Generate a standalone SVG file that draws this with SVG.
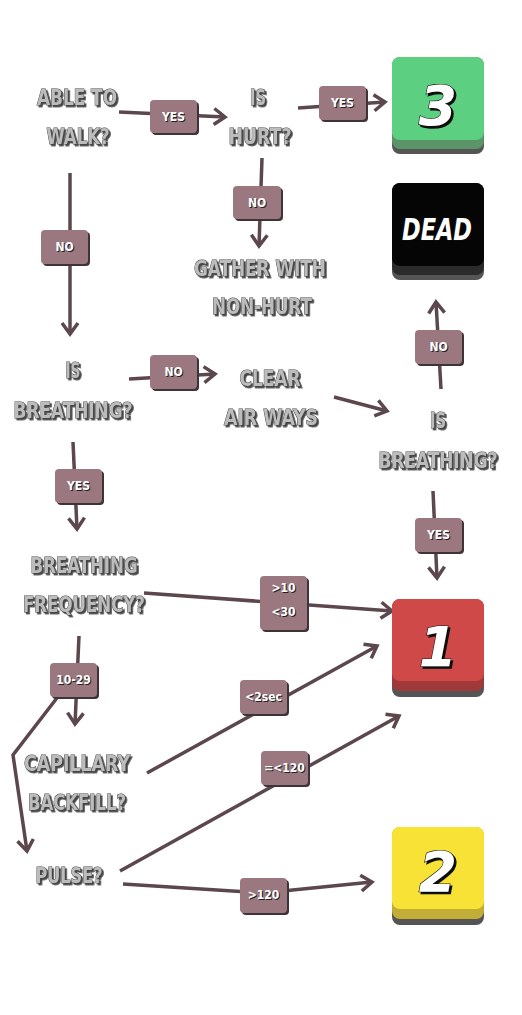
<svg xmlns="http://www.w3.org/2000/svg" width="522" height="1015" viewBox="0 0 522 1015">
<defs>
<style>
.h{font-family:"DejaVu Sans Condensed","DejaVu Sans",sans-serif;font-weight:bold;font-size:21px;fill:#bcbcbc;stroke:#454545;stroke-width:1;paint-order:stroke;text-anchor:middle}
.c{fill:none;stroke:#5b474c;stroke-width:3.5;stroke-linecap:butt;stroke-linejoin:miter}
.lb{fill:#9b7880}
.ls{fill:#3e3336}
.lt{font-family:"DejaVu Sans Condensed","DejaVu Sans",sans-serif;font-weight:bold;font-size:12px;fill:#ffffff;text-anchor:middle}
.ltsh{font-family:"DejaVu Sans Condensed","DejaVu Sans",sans-serif;font-weight:bold;font-size:12px;fill:#222;text-anchor:middle}
.num{font-family:"DejaVu Sans","Liberation Sans",sans-serif;font-weight:bold;font-style:italic;fill:#ffffff;stroke:#111;stroke-width:1.2;paint-order:stroke;text-anchor:middle}
</style>
<filter id="sh" x="-10%" y="-10%" width="130%" height="140%">
<feDropShadow dx="1.8" dy="1.8" stdDeviation="0.3" flood-color="#333" flood-opacity="0.9"/>
</filter>
<filter id="nsh" x="-20%" y="-20%" width="150%" height="150%">
<feDropShadow dx="2" dy="2" stdDeviation="0" flood-color="#111" flood-opacity="1"/>
</filter>
<marker id="ah" markerUnits="userSpaceOnUse" viewBox="-16 -12 20 24" refX="0" refY="0" markerWidth="20" markerHeight="24" orient="auto" overflow="visible">
<path d="M-11,-8 L0,0 L-11,8" fill="none" stroke="#5b474c" stroke-width="3.5" stroke-linejoin="miter"/>
</marker>
</defs>
<rect width="522" height="1015" fill="#ffffff"/>

<g id="connectors">
<line class="c" x1="119" y1="112" x2="225" y2="117" marker-end="url(#ah)"/>
<line class="c" x1="298" y1="108" x2="385" y2="102" marker-end="url(#ah)"/>
<line class="c" x1="262" y1="158" x2="259" y2="246" marker-end="url(#ah)"/>
<line class="c" x1="70" y1="173" x2="70" y2="334" marker-end="url(#ah)"/>
<line class="c" x1="129" y1="379" x2="215" y2="374" marker-end="url(#ah)"/>
<line class="c" x1="334" y1="397" x2="387" y2="411" marker-end="url(#ah)"/>
<line class="c" x1="441" y1="389" x2="436" y2="302" marker-end="url(#ah)"/>
<line class="c" x1="433" y1="491" x2="437" y2="578" marker-end="url(#ah)"/>
<line class="c" x1="73" y1="442" x2="77" y2="529" marker-end="url(#ah)"/>
<line class="c" x1="144" y1="593" x2="392" y2="611" marker-end="url(#ah)"/>
<line class="c" x1="79" y1="636" x2="75" y2="724" marker-end="url(#ah)"/>
<polyline class="c" points="60,694 13,755 27,851" marker-end="url(#ah)"/>
<line class="c" x1="147" y1="773" x2="377" y2="646" marker-end="url(#ah)"/>
<line class="c" x1="120" y1="871" x2="399" y2="716" marker-end="url(#ah)"/>
<polyline class="c" points="123,884 263,893 372,882" marker-end="url(#ah)"/>

<g id="lbl-yes1"><rect class="ls" x="152" y="102" width="47" height="33" rx="4"/><rect class="lb" x="150" y="100" width="47" height="33" rx="4"/><text class="ltsh" x="174.5" y="121.5">YES</text><text class="lt" x="173.5" y="120.5">YES</text></g>
<g id="lbl-yes2"><rect class="ls" x="321" y="88" width="47" height="34" rx="4"/><rect class="lb" x="319" y="86" width="47" height="34" rx="4"/><text class="ltsh" x="343.5" y="108">YES</text><text class="lt" x="342.5" y="107">YES</text></g>
<g id="lbl-no1"><rect class="ls" x="235" y="188" width="48" height="33" rx="4"/><rect class="lb" x="233" y="186" width="48" height="33" rx="4"/><text class="ltsh" x="258" y="208">NO</text><text class="lt" x="257" y="207">NO</text></g>
<g id="lbl-no2"><rect class="ls" x="43" y="232" width="47" height="34" rx="4"/><rect class="lb" x="41" y="230" width="47" height="34" rx="4"/><text class="ltsh" x="65.5" y="252">NO</text><text class="lt" x="64.5" y="251">NO</text></g>
<g id="lbl-no3"><rect class="ls" x="152" y="357" width="47" height="34" rx="4"/><rect class="lb" x="150" y="355" width="47" height="34" rx="4"/><text class="ltsh" x="174.5" y="377">NO</text><text class="lt" x="173.5" y="376">NO</text></g>
<g id="lbl-no4"><rect class="ls" x="417" y="332" width="47" height="34" rx="4"/><rect class="lb" x="415" y="330" width="47" height="34" rx="4"/><text class="ltsh" x="439.5" y="352">NO</text><text class="lt" x="438.5" y="351">NO</text></g>
<g id="lbl-yes3"><rect class="ls" x="57" y="471" width="47" height="34" rx="4"/><rect class="lb" x="55" y="469" width="47" height="34" rx="4"/><text class="ltsh" x="79.5" y="491">YES</text><text class="lt" x="78.5" y="490">YES</text></g>
<g id="lbl-yes4"><rect class="ls" x="417" y="520" width="47" height="34" rx="4"/><rect class="lb" x="415" y="518" width="47" height="34" rx="4"/><text class="ltsh" x="439.5" y="540">YES</text><text class="lt" x="438.5" y="539">YES</text></g>
<g id="lbl-10-30"><rect class="ls" x="262" y="578" width="47" height="54" rx="4"/><rect class="lb" x="260" y="576" width="47" height="54" rx="4"/><text class="ltsh" x="284.5" y="593">&gt;10</text><text class="lt" x="283.5" y="592">&gt;10</text><text class="ltsh" x="284.5" y="617">&lt;30</text><text class="lt" x="283.5" y="616">&lt;30</text></g>
<g id="lbl-10-29"><rect class="ls" x="52" y="665" width="47" height="34" rx="4"/><rect class="lb" x="50" y="663" width="47" height="34" rx="4"/><text class="ltsh" x="74.5" y="685">10-29</text><text class="lt" x="73.5" y="684">10-29</text></g>
<g id="lbl-2sec"><rect class="ls" x="242" y="682" width="47" height="34" rx="4"/><rect class="lb" x="240" y="680" width="47" height="34" rx="4"/><text class="ltsh" x="264.5" y="702">&lt;2sec</text><text class="lt" x="263.5" y="701">&lt;2sec</text></g>
<g id="lbl-le120"><rect class="ls" x="263" y="753" width="47" height="34" rx="4"/><rect class="lb" x="261" y="751" width="47" height="34" rx="4"/><text class="ltsh" x="285.5" y="773">=&lt;120</text><text class="lt" x="284.5" y="772">=&lt;120</text></g>
<g id="lbl-gt120"><rect class="ls" x="242" y="880" width="47" height="35" rx="4"/><rect class="lb" x="240" y="878" width="47" height="35" rx="4"/><text class="ltsh" x="264.5" y="900">&gt;120</text><text class="lt" x="263.5" y="899">&gt;120</text></g>
</g>

<g filter="url(#sh)">
<g id="able-to-walk"><text class="h" x="77" y="105" textLength="80" lengthAdjust="spacingAndGlyphs">ABLE TO</text><text class="h" x="78" y="144" textLength="63" lengthAdjust="spacingAndGlyphs">WALK?</text></g>
<g id="is-hurt"><text class="h" x="258" y="105" textLength="16" lengthAdjust="spacingAndGlyphs">IS</text><text class="h" x="260" y="144" textLength="63" lengthAdjust="spacingAndGlyphs">HURT?</text></g>
<g id="gather"><text class="h" x="260" y="276" textLength="132" lengthAdjust="spacingAndGlyphs">GATHER WITH</text><text class="h" x="262" y="314" textLength="100" lengthAdjust="spacingAndGlyphs">NON-HURT</text></g>
<g id="is-breathing-1"><text class="h" x="73" y="378" textLength="15" lengthAdjust="spacingAndGlyphs">IS</text><text class="h" x="73" y="418" textLength="119" lengthAdjust="spacingAndGlyphs">BREATHING?</text></g>
<g id="clear-airways"><text class="h" x="270" y="386" textLength="61" lengthAdjust="spacingAndGlyphs">CLEAR</text><text class="h" x="271" y="425" textLength="94" lengthAdjust="spacingAndGlyphs">AIR WAYS</text></g>
<g id="is-breathing-2"><text class="h" x="438" y="428" textLength="16" lengthAdjust="spacingAndGlyphs">IS</text><text class="h" x="438" y="468" textLength="119" lengthAdjust="spacingAndGlyphs">BREATHING?</text></g>
<g id="breathing-frequency"><text class="h" x="84" y="573" textLength="107" lengthAdjust="spacingAndGlyphs">BREATHING</text><text class="h" x="84" y="612" textLength="122" lengthAdjust="spacingAndGlyphs">FREQUENCY?</text></g>
<g id="capillary-backfill"><text class="h" x="77" y="771" textLength="106" lengthAdjust="spacingAndGlyphs">CAPILLARY</text><text class="h" x="77" y="810" textLength="98" lengthAdjust="spacingAndGlyphs">BACKFILL?</text></g>
<g id="pulse"><text class="h" x="69" y="883" textLength="67" lengthAdjust="spacingAndGlyphs">PULSE?</text></g>
</g>

<g id="tile-3">
<rect x="392" y="62" width="92" height="92" rx="8" fill="#555555"/>
<rect x="392" y="57" width="92" height="92" rx="8" fill="#5b9468"/>
<rect x="392" y="57" width="92" height="83" rx="8" fill="#5dcf80"/>
<text class="num" x="438" y="125" font-size="55" filter="url(#nsh)">3</text>
</g>
<g id="tile-dead">
<rect x="392" y="188" width="92" height="92" rx="8" fill="#555555"/>
<rect x="392" y="183" width="92" height="92" rx="8" fill="#2b2b2b"/>
<rect x="392" y="183" width="92" height="83" rx="8" fill="#050505"/>
<text class="num" x="437" y="240" font-size="30" font-style="normal" textLength="70" lengthAdjust="spacingAndGlyphs">DEAD</text>
</g>
<g id="tile-1">
<rect x="392" y="604" width="92" height="93" rx="8" fill="#555555"/>
<rect x="392" y="599" width="92" height="92" rx="8" fill="#a03a3a"/>
<rect x="392" y="599" width="92" height="82" rx="8" fill="#d04949"/>
<text class="num" x="438" y="666" font-size="55" filter="url(#nsh)">1</text>
</g>
<g id="tile-2">
<rect x="392" y="832" width="92" height="93" rx="8" fill="#555555"/>
<rect x="392" y="827" width="92" height="92" rx="8" fill="#c2ae36"/>
<rect x="392" y="827" width="92" height="82" rx="8" fill="#f7e235"/>
<text class="num" x="438" y="891" font-size="55" filter="url(#nsh)">2</text>
</g>
</svg>
